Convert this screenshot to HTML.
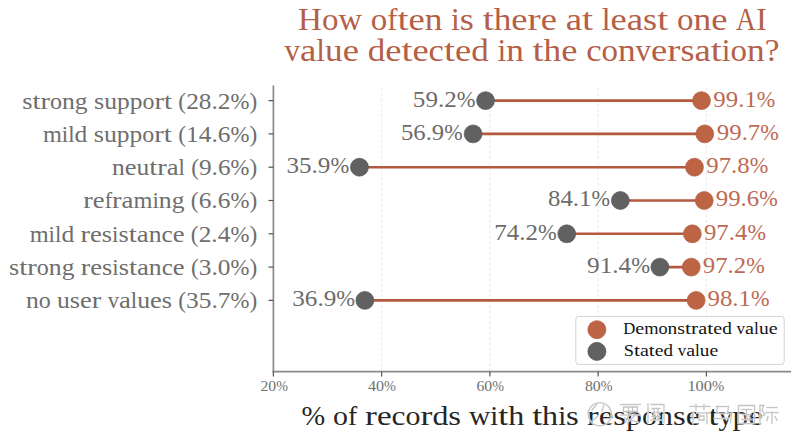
<!DOCTYPE html>
<html><head><meta charset="utf-8"><style>
html,body{margin:0;padding:0;background:#fff;width:800px;height:439px;overflow:hidden}
svg{display:block}
</style></head><body>
<svg width="800" height="439" viewBox="0 0 800 439" font-family='"Liberation Serif", serif'>
<rect width="800" height="439" fill="#ffffff"/>
<line x1="381.65" y1="87.5" x2="381.65" y2="371" stroke="#e9e9e9" stroke-width="1.0" stroke-dasharray="3,2.3"/>
<line x1="489.90" y1="87.5" x2="489.90" y2="371" stroke="#e9e9e9" stroke-width="1.0" stroke-dasharray="3,2.3"/>
<line x1="598.15" y1="87.5" x2="598.15" y2="371" stroke="#e9e9e9" stroke-width="1.0" stroke-dasharray="3,2.3"/>
<line x1="706.40" y1="87.5" x2="706.40" y2="371" stroke="#e9e9e9" stroke-width="1.0" stroke-dasharray="3,2.3"/>
<line x1="273.40" y1="85.5" x2="273.40" y2="372.5" stroke="#8a8a8a" stroke-width="1.7"/>
<line x1="272.55" y1="371.7" x2="791" y2="371.7" stroke="#8a8a8a" stroke-width="1.7"/>
<line x1="268.5" y1="100.60" x2="273.40" y2="100.60" stroke="#555" stroke-width="1.2"/>
<line x1="268.5" y1="133.90" x2="273.40" y2="133.90" stroke="#555" stroke-width="1.2"/>
<line x1="268.5" y1="167.20" x2="273.40" y2="167.20" stroke="#555" stroke-width="1.2"/>
<line x1="268.5" y1="200.50" x2="273.40" y2="200.50" stroke="#555" stroke-width="1.2"/>
<line x1="268.5" y1="233.80" x2="273.40" y2="233.80" stroke="#555" stroke-width="1.2"/>
<line x1="268.5" y1="267.10" x2="273.40" y2="267.10" stroke="#555" stroke-width="1.2"/>
<line x1="268.5" y1="300.40" x2="273.40" y2="300.40" stroke="#555" stroke-width="1.2"/>
<line x1="273.40" y1="371.7" x2="273.40" y2="376.5" stroke="#555" stroke-width="1.2"/>
<line x1="381.65" y1="371.7" x2="381.65" y2="376.5" stroke="#555" stroke-width="1.2"/>
<line x1="489.90" y1="371.7" x2="489.90" y2="376.5" stroke="#555" stroke-width="1.2"/>
<line x1="598.15" y1="371.7" x2="598.15" y2="376.5" stroke="#555" stroke-width="1.2"/>
<line x1="706.40" y1="371.7" x2="706.40" y2="376.5" stroke="#555" stroke-width="1.2"/>
<line x1="485.57" y1="100.60" x2="701.53" y2="100.60" stroke="#b4583f" stroke-width="2.6"/>
<circle cx="485.57" cy="100.60" r="8.95" fill="#616161" stroke="#585858" stroke-width="0.7"/>
<circle cx="701.53" cy="100.60" r="8.95" fill="#bd6445" stroke="#b45c3e" stroke-width="0.7"/>
<line x1="473.12" y1="133.90" x2="704.78" y2="133.90" stroke="#b4583f" stroke-width="2.6"/>
<circle cx="473.12" cy="133.90" r="8.95" fill="#616161" stroke="#585858" stroke-width="0.7"/>
<circle cx="704.78" cy="133.90" r="8.95" fill="#bd6445" stroke="#b45c3e" stroke-width="0.7"/>
<line x1="359.46" y1="167.20" x2="694.49" y2="167.20" stroke="#b4583f" stroke-width="2.6"/>
<circle cx="359.46" cy="167.20" r="8.95" fill="#616161" stroke="#585858" stroke-width="0.7"/>
<circle cx="694.49" cy="167.20" r="8.95" fill="#bd6445" stroke="#b45c3e" stroke-width="0.7"/>
<line x1="620.34" y1="200.50" x2="704.23" y2="200.50" stroke="#b4583f" stroke-width="2.6"/>
<circle cx="620.34" cy="200.50" r="8.95" fill="#616161" stroke="#585858" stroke-width="0.7"/>
<circle cx="704.23" cy="200.50" r="8.95" fill="#bd6445" stroke="#b45c3e" stroke-width="0.7"/>
<line x1="566.76" y1="233.80" x2="692.33" y2="233.80" stroke="#b4583f" stroke-width="2.6"/>
<circle cx="566.76" cy="233.80" r="8.95" fill="#616161" stroke="#585858" stroke-width="0.7"/>
<circle cx="692.33" cy="233.80" r="8.95" fill="#bd6445" stroke="#b45c3e" stroke-width="0.7"/>
<line x1="659.85" y1="267.10" x2="691.24" y2="267.10" stroke="#b4583f" stroke-width="2.6"/>
<circle cx="659.85" cy="267.10" r="8.95" fill="#616161" stroke="#585858" stroke-width="0.7"/>
<circle cx="691.24" cy="267.10" r="8.95" fill="#bd6445" stroke="#b45c3e" stroke-width="0.7"/>
<line x1="364.87" y1="300.40" x2="696.12" y2="300.40" stroke="#b4583f" stroke-width="2.6"/>
<circle cx="364.87" cy="300.40" r="8.95" fill="#616161" stroke="#585858" stroke-width="0.7"/>
<circle cx="696.12" cy="300.40" r="8.95" fill="#bd6445" stroke="#b45c3e" stroke-width="0.7"/>
<rect x="575.8" y="316.4" width="208.4" height="48" rx="3" ry="3" fill="#ffffff" fill-opacity="0.85" stroke="#d4d4d4" stroke-width="1"/>
<circle cx="596.9" cy="329.7" r="9.049999999999999" fill="#bd6445" stroke="#b45c3e" stroke-width="0.7"/>
<circle cx="596.9" cy="351.4" r="9.049999999999999" fill="#616161" stroke="#585858" stroke-width="0.7"/>
<text y="30.20" font-size="30.59" fill="#b55f49"><tspan x="298.09" textLength="23.93" lengthAdjust="spacingAndGlyphs">H</tspan><tspan x="322.02" textLength="16.52" lengthAdjust="spacingAndGlyphs">o</tspan><tspan x="338.54" textLength="23.48" lengthAdjust="spacingAndGlyphs">w</tspan><tspan x="370.74" textLength="16.52" lengthAdjust="spacingAndGlyphs">o</tspan><tspan x="387.26" textLength="10.16" lengthAdjust="spacingAndGlyphs">f</tspan><tspan x="397.42" textLength="11.03" lengthAdjust="spacingAndGlyphs">t</tspan><tspan x="408.44" textLength="16.24" lengthAdjust="spacingAndGlyphs">e</tspan><tspan x="424.68" textLength="17.67" lengthAdjust="spacingAndGlyphs">n</tspan><tspan x="451.07" textLength="8.78" lengthAdjust="spacingAndGlyphs">i</tspan><tspan x="459.85" textLength="14.08" lengthAdjust="spacingAndGlyphs">s</tspan><tspan x="482.65" textLength="11.03" lengthAdjust="spacingAndGlyphs">t</tspan><tspan x="493.68" textLength="17.67" lengthAdjust="spacingAndGlyphs">h</tspan><tspan x="511.35" textLength="16.24" lengthAdjust="spacingAndGlyphs">e</tspan><tspan x="527.58" textLength="13.12" lengthAdjust="spacingAndGlyphs">r</tspan><tspan x="540.70" textLength="16.24" lengthAdjust="spacingAndGlyphs">e</tspan><tspan x="565.66" textLength="16.36" lengthAdjust="spacingAndGlyphs">a</tspan><tspan x="582.02" textLength="11.03" lengthAdjust="spacingAndGlyphs">t</tspan><tspan x="601.76" textLength="8.78" lengthAdjust="spacingAndGlyphs">l</tspan><tspan x="610.54" textLength="16.24" lengthAdjust="spacingAndGlyphs">e</tspan><tspan x="626.78" textLength="16.36" lengthAdjust="spacingAndGlyphs">a</tspan><tspan x="643.13" textLength="14.08" lengthAdjust="spacingAndGlyphs">s</tspan><tspan x="657.21" textLength="11.03" lengthAdjust="spacingAndGlyphs">t</tspan><tspan x="676.96" textLength="16.52" lengthAdjust="spacingAndGlyphs">o</tspan><tspan x="693.48" textLength="17.67" lengthAdjust="spacingAndGlyphs">n</tspan><tspan x="711.15" textLength="16.24" lengthAdjust="spacingAndGlyphs">e</tspan><tspan x="736.11" textLength="19.81" lengthAdjust="spacingAndGlyphs">A</tspan><tspan x="755.92" textLength="10.84" lengthAdjust="spacingAndGlyphs">I</tspan></text>
<text y="61.20" font-size="30.55" fill="#b55f49"><tspan x="284.54" textLength="15.48" lengthAdjust="spacingAndGlyphs">v</tspan><tspan x="300.01" textLength="16.33" lengthAdjust="spacingAndGlyphs">a</tspan><tspan x="316.35" textLength="8.76" lengthAdjust="spacingAndGlyphs">l</tspan><tspan x="325.11" textLength="17.64" lengthAdjust="spacingAndGlyphs">u</tspan><tspan x="342.75" textLength="16.21" lengthAdjust="spacingAndGlyphs">e</tspan><tspan x="367.67" textLength="17.54" lengthAdjust="spacingAndGlyphs">d</tspan><tspan x="385.21" textLength="16.21" lengthAdjust="spacingAndGlyphs">e</tspan><tspan x="401.42" textLength="11.01" lengthAdjust="spacingAndGlyphs">t</tspan><tspan x="412.43" textLength="16.21" lengthAdjust="spacingAndGlyphs">e</tspan><tspan x="428.64" textLength="15.34" lengthAdjust="spacingAndGlyphs">c</tspan><tspan x="443.99" textLength="11.01" lengthAdjust="spacingAndGlyphs">t</tspan><tspan x="455.00" textLength="16.21" lengthAdjust="spacingAndGlyphs">e</tspan><tspan x="471.21" textLength="17.54" lengthAdjust="spacingAndGlyphs">d</tspan><tspan x="497.46" textLength="8.76" lengthAdjust="spacingAndGlyphs">i</tspan><tspan x="506.22" textLength="17.64" lengthAdjust="spacingAndGlyphs">n</tspan><tspan x="532.57" textLength="11.01" lengthAdjust="spacingAndGlyphs">t</tspan><tspan x="543.58" textLength="17.64" lengthAdjust="spacingAndGlyphs">h</tspan><tspan x="561.23" textLength="16.21" lengthAdjust="spacingAndGlyphs">e</tspan><tspan x="586.15" textLength="15.34" lengthAdjust="spacingAndGlyphs">c</tspan><tspan x="601.49" textLength="16.49" lengthAdjust="spacingAndGlyphs">o</tspan><tspan x="617.98" textLength="17.64" lengthAdjust="spacingAndGlyphs">n</tspan><tspan x="635.63" textLength="15.48" lengthAdjust="spacingAndGlyphs">v</tspan><tspan x="651.10" textLength="16.21" lengthAdjust="spacingAndGlyphs">e</tspan><tspan x="667.32" textLength="13.10" lengthAdjust="spacingAndGlyphs">r</tspan><tspan x="680.41" textLength="14.06" lengthAdjust="spacingAndGlyphs">s</tspan><tspan x="694.47" textLength="16.33" lengthAdjust="spacingAndGlyphs">a</tspan><tspan x="710.80" textLength="11.01" lengthAdjust="spacingAndGlyphs">t</tspan><tspan x="721.81" textLength="8.76" lengthAdjust="spacingAndGlyphs">i</tspan><tspan x="730.58" textLength="16.49" lengthAdjust="spacingAndGlyphs">o</tspan><tspan x="747.07" textLength="17.64" lengthAdjust="spacingAndGlyphs">n</tspan><tspan x="764.71" textLength="14.69" lengthAdjust="spacingAndGlyphs">?</tspan></text>
<text y="108.50" font-size="22.21" fill="#6e6e6e"><tspan x="22.30" textLength="10.22" lengthAdjust="spacingAndGlyphs">s</tspan><tspan x="32.53" textLength="8.01" lengthAdjust="spacingAndGlyphs">t</tspan><tspan x="40.54" textLength="9.52" lengthAdjust="spacingAndGlyphs">r</tspan><tspan x="50.06" textLength="11.99" lengthAdjust="spacingAndGlyphs">o</tspan><tspan x="62.05" textLength="12.83" lengthAdjust="spacingAndGlyphs">n</tspan><tspan x="74.88" textLength="12.75" lengthAdjust="spacingAndGlyphs">g</tspan><tspan x="93.97" textLength="10.22" lengthAdjust="spacingAndGlyphs">s</tspan><tspan x="104.20" textLength="12.83" lengthAdjust="spacingAndGlyphs">u</tspan><tspan x="117.03" textLength="12.75" lengthAdjust="spacingAndGlyphs">p</tspan><tspan x="129.78" textLength="12.75" lengthAdjust="spacingAndGlyphs">p</tspan><tspan x="142.54" textLength="11.99" lengthAdjust="spacingAndGlyphs">o</tspan><tspan x="154.53" textLength="9.52" lengthAdjust="spacingAndGlyphs">r</tspan><tspan x="164.05" textLength="8.01" lengthAdjust="spacingAndGlyphs">t</tspan><tspan x="178.39" textLength="7.77" lengthAdjust="spacingAndGlyphs">(</tspan><tspan x="186.17" textLength="12.68" lengthAdjust="spacingAndGlyphs">2</tspan><tspan x="198.84" textLength="12.68" lengthAdjust="spacingAndGlyphs">8</tspan><tspan x="211.52" textLength="6.33" lengthAdjust="spacingAndGlyphs">.</tspan><tspan x="217.85" textLength="12.68" lengthAdjust="spacingAndGlyphs">2</tspan><tspan x="230.53" textLength="18.93" lengthAdjust="spacingAndGlyphs">%</tspan><tspan x="249.46" textLength="7.77" lengthAdjust="spacingAndGlyphs">)</tspan></text>
<text y="106.50" font-size="22.57" fill="#6c6c6c"><tspan x="412.87" textLength="12.53" lengthAdjust="spacingAndGlyphs">5</tspan><tspan x="425.41" textLength="12.53" lengthAdjust="spacingAndGlyphs">9</tspan><tspan x="437.94" textLength="6.26" lengthAdjust="spacingAndGlyphs">.</tspan><tspan x="444.20" textLength="12.53" lengthAdjust="spacingAndGlyphs">2</tspan><tspan x="456.74" textLength="18.72" lengthAdjust="spacingAndGlyphs">%</tspan></text>
<text y="106.50" font-size="22.60" fill="#bd6a54"><tspan x="713.38" textLength="12.41" lengthAdjust="spacingAndGlyphs">9</tspan><tspan x="725.79" textLength="12.41" lengthAdjust="spacingAndGlyphs">9</tspan><tspan x="738.20" textLength="6.20" lengthAdjust="spacingAndGlyphs">.</tspan><tspan x="744.40" textLength="12.41" lengthAdjust="spacingAndGlyphs">1</tspan><tspan x="756.81" textLength="18.53" lengthAdjust="spacingAndGlyphs">%</tspan></text>
<text y="141.80" font-size="22.25" fill="#6e6e6e"><tspan x="42.90" textLength="18.92" lengthAdjust="spacingAndGlyphs">m</tspan><tspan x="61.82" textLength="6.38" lengthAdjust="spacingAndGlyphs">i</tspan><tspan x="68.20" textLength="6.38" lengthAdjust="spacingAndGlyphs">l</tspan><tspan x="74.59" textLength="12.77" lengthAdjust="spacingAndGlyphs">d</tspan><tspan x="93.70" textLength="10.24" lengthAdjust="spacingAndGlyphs">s</tspan><tspan x="103.94" textLength="12.85" lengthAdjust="spacingAndGlyphs">u</tspan><tspan x="116.79" textLength="12.77" lengthAdjust="spacingAndGlyphs">p</tspan><tspan x="129.57" textLength="12.77" lengthAdjust="spacingAndGlyphs">p</tspan><tspan x="142.34" textLength="12.01" lengthAdjust="spacingAndGlyphs">o</tspan><tspan x="154.35" textLength="9.54" lengthAdjust="spacingAndGlyphs">r</tspan><tspan x="163.89" textLength="8.02" lengthAdjust="spacingAndGlyphs">t</tspan><tspan x="178.25" textLength="7.78" lengthAdjust="spacingAndGlyphs">(</tspan><tspan x="186.04" textLength="12.70" lengthAdjust="spacingAndGlyphs">1</tspan><tspan x="198.73" textLength="12.70" lengthAdjust="spacingAndGlyphs">4</tspan><tspan x="211.43" textLength="6.34" lengthAdjust="spacingAndGlyphs">.</tspan><tspan x="217.77" textLength="12.70" lengthAdjust="spacingAndGlyphs">6</tspan><tspan x="230.46" textLength="18.96" lengthAdjust="spacingAndGlyphs">%</tspan><tspan x="249.42" textLength="7.78" lengthAdjust="spacingAndGlyphs">)</tspan></text>
<text y="139.80" font-size="22.20" fill="#6c6c6c"><tspan x="401.00" textLength="12.33" lengthAdjust="spacingAndGlyphs">5</tspan><tspan x="413.33" textLength="12.33" lengthAdjust="spacingAndGlyphs">6</tspan><tspan x="425.65" textLength="6.16" lengthAdjust="spacingAndGlyphs">.</tspan><tspan x="431.81" textLength="12.33" lengthAdjust="spacingAndGlyphs">9</tspan><tspan x="444.14" textLength="18.41" lengthAdjust="spacingAndGlyphs">%</tspan></text>
<text y="139.80" font-size="22.60" fill="#bd6a54"><tspan x="716.87" textLength="12.41" lengthAdjust="spacingAndGlyphs">9</tspan><tspan x="729.28" textLength="12.41" lengthAdjust="spacingAndGlyphs">9</tspan><tspan x="741.69" textLength="6.20" lengthAdjust="spacingAndGlyphs">.</tspan><tspan x="747.89" textLength="12.41" lengthAdjust="spacingAndGlyphs">7</tspan><tspan x="760.30" textLength="18.53" lengthAdjust="spacingAndGlyphs">%</tspan></text>
<text y="175.10" font-size="22.15" fill="#6e6e6e"><tspan x="111.90" textLength="12.79" lengthAdjust="spacingAndGlyphs">n</tspan><tspan x="124.70" textLength="11.75" lengthAdjust="spacingAndGlyphs">e</tspan><tspan x="136.45" textLength="12.79" lengthAdjust="spacingAndGlyphs">u</tspan><tspan x="149.24" textLength="7.98" lengthAdjust="spacingAndGlyphs">t</tspan><tspan x="157.22" textLength="9.49" lengthAdjust="spacingAndGlyphs">r</tspan><tspan x="166.72" textLength="11.84" lengthAdjust="spacingAndGlyphs">a</tspan><tspan x="178.56" textLength="6.35" lengthAdjust="spacingAndGlyphs">l</tspan><tspan x="191.23" textLength="7.75" lengthAdjust="spacingAndGlyphs">(</tspan><tspan x="198.97" textLength="12.64" lengthAdjust="spacingAndGlyphs">9</tspan><tspan x="211.61" textLength="6.31" lengthAdjust="spacingAndGlyphs">.</tspan><tspan x="217.92" textLength="12.64" lengthAdjust="spacingAndGlyphs">6</tspan><tspan x="230.56" textLength="18.87" lengthAdjust="spacingAndGlyphs">%</tspan><tspan x="249.43" textLength="7.75" lengthAdjust="spacingAndGlyphs">)</tspan></text>
<text y="173.10" font-size="22.64" fill="#6c6c6c"><tspan x="286.44" textLength="12.58" lengthAdjust="spacingAndGlyphs">3</tspan><tspan x="299.02" textLength="12.58" lengthAdjust="spacingAndGlyphs">5</tspan><tspan x="311.60" textLength="6.28" lengthAdjust="spacingAndGlyphs">.</tspan><tspan x="317.88" textLength="12.58" lengthAdjust="spacingAndGlyphs">9</tspan><tspan x="330.46" textLength="18.78" lengthAdjust="spacingAndGlyphs">%</tspan></text>
<text y="173.10" font-size="22.60" fill="#bd6a54"><tspan x="706.30" textLength="12.41" lengthAdjust="spacingAndGlyphs">9</tspan><tspan x="718.71" textLength="12.41" lengthAdjust="spacingAndGlyphs">7</tspan><tspan x="731.12" textLength="6.20" lengthAdjust="spacingAndGlyphs">.</tspan><tspan x="737.33" textLength="12.41" lengthAdjust="spacingAndGlyphs">8</tspan><tspan x="749.74" textLength="18.53" lengthAdjust="spacingAndGlyphs">%</tspan></text>
<text y="208.40" font-size="22.27" fill="#6e6e6e"><tspan x="83.30" textLength="9.55" lengthAdjust="spacingAndGlyphs">r</tspan><tspan x="92.85" textLength="11.82" lengthAdjust="spacingAndGlyphs">e</tspan><tspan x="104.67" textLength="7.39" lengthAdjust="spacingAndGlyphs">f</tspan><tspan x="112.07" textLength="9.55" lengthAdjust="spacingAndGlyphs">r</tspan><tspan x="121.62" textLength="11.91" lengthAdjust="spacingAndGlyphs">a</tspan><tspan x="133.53" textLength="18.94" lengthAdjust="spacingAndGlyphs">m</tspan><tspan x="152.47" textLength="6.39" lengthAdjust="spacingAndGlyphs">i</tspan><tspan x="158.86" textLength="12.87" lengthAdjust="spacingAndGlyphs">n</tspan><tspan x="171.73" textLength="12.79" lengthAdjust="spacingAndGlyphs">g</tspan><tspan x="190.86" textLength="7.79" lengthAdjust="spacingAndGlyphs">(</tspan><tspan x="198.66" textLength="12.71" lengthAdjust="spacingAndGlyphs">6</tspan><tspan x="211.37" textLength="6.35" lengthAdjust="spacingAndGlyphs">.</tspan><tspan x="217.72" textLength="12.71" lengthAdjust="spacingAndGlyphs">6</tspan><tspan x="230.43" textLength="18.98" lengthAdjust="spacingAndGlyphs">%</tspan><tspan x="249.41" textLength="7.79" lengthAdjust="spacingAndGlyphs">)</tspan></text>
<text y="206.40" font-size="22.35" fill="#6c6c6c"><tspan x="548.03" textLength="12.41" lengthAdjust="spacingAndGlyphs">8</tspan><tspan x="560.44" textLength="12.41" lengthAdjust="spacingAndGlyphs">4</tspan><tspan x="572.85" textLength="6.20" lengthAdjust="spacingAndGlyphs">.</tspan><tspan x="579.05" textLength="12.41" lengthAdjust="spacingAndGlyphs">1</tspan><tspan x="591.46" textLength="18.53" lengthAdjust="spacingAndGlyphs">%</tspan></text>
<text y="206.40" font-size="22.60" fill="#bd6a54"><tspan x="715.79" textLength="12.41" lengthAdjust="spacingAndGlyphs">9</tspan><tspan x="728.20" textLength="12.41" lengthAdjust="spacingAndGlyphs">9</tspan><tspan x="740.61" textLength="6.20" lengthAdjust="spacingAndGlyphs">.</tspan><tspan x="746.81" textLength="12.41" lengthAdjust="spacingAndGlyphs">6</tspan><tspan x="759.22" textLength="18.53" lengthAdjust="spacingAndGlyphs">%</tspan></text>
<text y="241.70" font-size="22.26" fill="#6e6e6e"><tspan x="29.70" textLength="18.93" lengthAdjust="spacingAndGlyphs">m</tspan><tspan x="48.63" textLength="6.39" lengthAdjust="spacingAndGlyphs">i</tspan><tspan x="55.02" textLength="6.39" lengthAdjust="spacingAndGlyphs">l</tspan><tspan x="61.40" textLength="12.78" lengthAdjust="spacingAndGlyphs">d</tspan><tspan x="80.53" textLength="9.54" lengthAdjust="spacingAndGlyphs">r</tspan><tspan x="90.08" textLength="11.81" lengthAdjust="spacingAndGlyphs">e</tspan><tspan x="101.89" textLength="10.25" lengthAdjust="spacingAndGlyphs">s</tspan><tspan x="112.14" textLength="6.39" lengthAdjust="spacingAndGlyphs">i</tspan><tspan x="118.52" textLength="10.25" lengthAdjust="spacingAndGlyphs">s</tspan><tspan x="128.77" textLength="8.02" lengthAdjust="spacingAndGlyphs">t</tspan><tspan x="136.79" textLength="11.90" lengthAdjust="spacingAndGlyphs">a</tspan><tspan x="148.69" textLength="12.86" lengthAdjust="spacingAndGlyphs">n</tspan><tspan x="161.55" textLength="11.18" lengthAdjust="spacingAndGlyphs">c</tspan><tspan x="172.73" textLength="11.81" lengthAdjust="spacingAndGlyphs">e</tspan><tspan x="190.89" textLength="7.79" lengthAdjust="spacingAndGlyphs">(</tspan><tspan x="198.68" textLength="12.70" lengthAdjust="spacingAndGlyphs">2</tspan><tspan x="211.39" textLength="6.35" lengthAdjust="spacingAndGlyphs">.</tspan><tspan x="217.73" textLength="12.70" lengthAdjust="spacingAndGlyphs">4</tspan><tspan x="230.44" textLength="18.97" lengthAdjust="spacingAndGlyphs">%</tspan><tspan x="249.41" textLength="7.79" lengthAdjust="spacingAndGlyphs">)</tspan></text>
<text y="239.70" font-size="22.57" fill="#6c6c6c"><tspan x="494.25" textLength="12.53" lengthAdjust="spacingAndGlyphs">7</tspan><tspan x="506.78" textLength="12.53" lengthAdjust="spacingAndGlyphs">4</tspan><tspan x="519.32" textLength="6.26" lengthAdjust="spacingAndGlyphs">.</tspan><tspan x="525.58" textLength="12.53" lengthAdjust="spacingAndGlyphs">2</tspan><tspan x="538.11" textLength="18.72" lengthAdjust="spacingAndGlyphs">%</tspan></text>
<text y="239.70" font-size="22.60" fill="#bd6a54"><tspan x="703.97" textLength="12.41" lengthAdjust="spacingAndGlyphs">9</tspan><tspan x="716.38" textLength="12.41" lengthAdjust="spacingAndGlyphs">7</tspan><tspan x="728.79" textLength="6.20" lengthAdjust="spacingAndGlyphs">.</tspan><tspan x="735.00" textLength="12.41" lengthAdjust="spacingAndGlyphs">4</tspan><tspan x="747.41" textLength="18.53" lengthAdjust="spacingAndGlyphs">%</tspan></text>
<text y="275.00" font-size="22.23" fill="#6e6e6e"><tspan x="9.10" textLength="10.23" lengthAdjust="spacingAndGlyphs">s</tspan><tspan x="19.33" textLength="8.01" lengthAdjust="spacingAndGlyphs">t</tspan><tspan x="27.35" textLength="9.53" lengthAdjust="spacingAndGlyphs">r</tspan><tspan x="36.88" textLength="12.00" lengthAdjust="spacingAndGlyphs">o</tspan><tspan x="48.88" textLength="12.84" lengthAdjust="spacingAndGlyphs">n</tspan><tspan x="61.72" textLength="12.76" lengthAdjust="spacingAndGlyphs">g</tspan><tspan x="80.82" textLength="9.53" lengthAdjust="spacingAndGlyphs">r</tspan><tspan x="90.34" textLength="11.80" lengthAdjust="spacingAndGlyphs">e</tspan><tspan x="102.14" textLength="10.23" lengthAdjust="spacingAndGlyphs">s</tspan><tspan x="112.37" textLength="6.38" lengthAdjust="spacingAndGlyphs">i</tspan><tspan x="118.75" textLength="10.23" lengthAdjust="spacingAndGlyphs">s</tspan><tspan x="128.98" textLength="8.01" lengthAdjust="spacingAndGlyphs">t</tspan><tspan x="136.99" textLength="11.88" lengthAdjust="spacingAndGlyphs">a</tspan><tspan x="148.88" textLength="12.84" lengthAdjust="spacingAndGlyphs">n</tspan><tspan x="161.72" textLength="11.17" lengthAdjust="spacingAndGlyphs">c</tspan><tspan x="172.88" textLength="11.80" lengthAdjust="spacingAndGlyphs">e</tspan><tspan x="191.02" textLength="7.78" lengthAdjust="spacingAndGlyphs">(</tspan><tspan x="198.79" textLength="12.68" lengthAdjust="spacingAndGlyphs">3</tspan><tspan x="211.48" textLength="6.34" lengthAdjust="spacingAndGlyphs">.</tspan><tspan x="217.81" textLength="12.68" lengthAdjust="spacingAndGlyphs">0</tspan><tspan x="230.50" textLength="18.94" lengthAdjust="spacingAndGlyphs">%</tspan><tspan x="249.44" textLength="7.78" lengthAdjust="spacingAndGlyphs">)</tspan></text>
<text y="273.00" font-size="22.71" fill="#6c6c6c"><tspan x="587.03" textLength="12.62" lengthAdjust="spacingAndGlyphs">9</tspan><tspan x="599.65" textLength="12.62" lengthAdjust="spacingAndGlyphs">1</tspan><tspan x="612.26" textLength="6.30" lengthAdjust="spacingAndGlyphs">.</tspan><tspan x="618.57" textLength="12.62" lengthAdjust="spacingAndGlyphs">4</tspan><tspan x="631.19" textLength="18.85" lengthAdjust="spacingAndGlyphs">%</tspan></text>
<text y="273.00" font-size="22.60" fill="#bd6a54"><tspan x="702.81" textLength="12.41" lengthAdjust="spacingAndGlyphs">9</tspan><tspan x="715.22" textLength="12.41" lengthAdjust="spacingAndGlyphs">7</tspan><tspan x="727.63" textLength="6.20" lengthAdjust="spacingAndGlyphs">.</tspan><tspan x="733.83" textLength="12.41" lengthAdjust="spacingAndGlyphs">2</tspan><tspan x="746.24" textLength="18.53" lengthAdjust="spacingAndGlyphs">%</tspan></text>
<text y="308.30" font-size="22.20" fill="#6e6e6e"><tspan x="25.90" textLength="12.83" lengthAdjust="spacingAndGlyphs">n</tspan><tspan x="38.73" textLength="11.99" lengthAdjust="spacingAndGlyphs">o</tspan><tspan x="57.05" textLength="12.83" lengthAdjust="spacingAndGlyphs">u</tspan><tspan x="69.87" textLength="10.22" lengthAdjust="spacingAndGlyphs">s</tspan><tspan x="80.09" textLength="11.78" lengthAdjust="spacingAndGlyphs">e</tspan><tspan x="91.88" textLength="9.52" lengthAdjust="spacingAndGlyphs">r</tspan><tspan x="107.73" textLength="11.25" lengthAdjust="spacingAndGlyphs">v</tspan><tspan x="118.97" textLength="11.87" lengthAdjust="spacingAndGlyphs">a</tspan><tspan x="130.85" textLength="6.37" lengthAdjust="spacingAndGlyphs">l</tspan><tspan x="137.22" textLength="12.83" lengthAdjust="spacingAndGlyphs">u</tspan><tspan x="150.04" textLength="11.78" lengthAdjust="spacingAndGlyphs">e</tspan><tspan x="161.83" textLength="10.22" lengthAdjust="spacingAndGlyphs">s</tspan><tspan x="178.37" textLength="7.77" lengthAdjust="spacingAndGlyphs">(</tspan><tspan x="186.14" textLength="12.67" lengthAdjust="spacingAndGlyphs">3</tspan><tspan x="198.81" textLength="12.67" lengthAdjust="spacingAndGlyphs">5</tspan><tspan x="211.48" textLength="6.33" lengthAdjust="spacingAndGlyphs">.</tspan><tspan x="217.81" textLength="12.67" lengthAdjust="spacingAndGlyphs">7</tspan><tspan x="230.48" textLength="18.92" lengthAdjust="spacingAndGlyphs">%</tspan><tspan x="249.41" textLength="7.77" lengthAdjust="spacingAndGlyphs">)</tspan></text>
<text y="306.30" font-size="22.64" fill="#6c6c6c"><tspan x="292.27" textLength="12.58" lengthAdjust="spacingAndGlyphs">3</tspan><tspan x="304.85" textLength="12.58" lengthAdjust="spacingAndGlyphs">6</tspan><tspan x="317.42" textLength="6.28" lengthAdjust="spacingAndGlyphs">.</tspan><tspan x="323.71" textLength="12.58" lengthAdjust="spacingAndGlyphs">9</tspan><tspan x="336.28" textLength="18.78" lengthAdjust="spacingAndGlyphs">%</tspan></text>
<text y="306.30" font-size="22.60" fill="#bd6a54"><tspan x="707.55" textLength="12.41" lengthAdjust="spacingAndGlyphs">9</tspan><tspan x="719.96" textLength="12.41" lengthAdjust="spacingAndGlyphs">8</tspan><tspan x="732.37" textLength="6.20" lengthAdjust="spacingAndGlyphs">.</tspan><tspan x="738.57" textLength="12.41" lengthAdjust="spacingAndGlyphs">1</tspan><tspan x="750.98" textLength="18.53" lengthAdjust="spacingAndGlyphs">%</tspan></text>
<text y="390.50" font-size="13.76" fill="#707070"><tspan x="260.48" textLength="7.85" lengthAdjust="spacingAndGlyphs">2</tspan><tspan x="268.33" textLength="7.85" lengthAdjust="spacingAndGlyphs">0</tspan><tspan x="276.18" textLength="11.73" lengthAdjust="spacingAndGlyphs">%</tspan></text>
<text y="390.50" font-size="14.03" fill="#707070"><tspan x="367.96" textLength="8.01" lengthAdjust="spacingAndGlyphs">4</tspan><tspan x="375.96" textLength="8.01" lengthAdjust="spacingAndGlyphs">0</tspan><tspan x="383.97" textLength="11.96" lengthAdjust="spacingAndGlyphs">%</tspan></text>
<text y="390.50" font-size="13.80" fill="#707070"><tspan x="476.47" textLength="7.87" lengthAdjust="spacingAndGlyphs">6</tspan><tspan x="484.35" textLength="7.87" lengthAdjust="spacingAndGlyphs">0</tspan><tspan x="492.22" textLength="11.76" lengthAdjust="spacingAndGlyphs">%</tspan></text>
<text y="390.50" font-size="13.80" fill="#707070"><tspan x="584.97" textLength="7.87" lengthAdjust="spacingAndGlyphs">8</tspan><tspan x="592.85" textLength="7.87" lengthAdjust="spacingAndGlyphs">0</tspan><tspan x="600.72" textLength="11.76" lengthAdjust="spacingAndGlyphs">%</tspan></text>
<text y="390.50" font-size="14.39" fill="#707070"><tspan x="687.42" textLength="8.21" lengthAdjust="spacingAndGlyphs">1</tspan><tspan x="695.63" textLength="8.21" lengthAdjust="spacingAndGlyphs">0</tspan><tspan x="703.85" textLength="8.21" lengthAdjust="spacingAndGlyphs">0</tspan><tspan x="712.06" textLength="12.27" lengthAdjust="spacingAndGlyphs">%</tspan></text>
<text y="334.20" font-size="16.80" fill="#141414"><tspan x="623.17" textLength="12.08" lengthAdjust="spacingAndGlyphs">D</tspan><tspan x="635.25" textLength="8.92" lengthAdjust="spacingAndGlyphs">e</tspan><tspan x="644.17" textLength="14.29" lengthAdjust="spacingAndGlyphs">m</tspan><tspan x="658.46" textLength="9.07" lengthAdjust="spacingAndGlyphs">o</tspan><tspan x="667.53" textLength="9.71" lengthAdjust="spacingAndGlyphs">n</tspan><tspan x="677.24" textLength="7.73" lengthAdjust="spacingAndGlyphs">s</tspan><tspan x="684.97" textLength="6.06" lengthAdjust="spacingAndGlyphs">t</tspan><tspan x="691.03" textLength="7.20" lengthAdjust="spacingAndGlyphs">r</tspan><tspan x="698.23" textLength="8.98" lengthAdjust="spacingAndGlyphs">a</tspan><tspan x="707.22" textLength="6.06" lengthAdjust="spacingAndGlyphs">t</tspan><tspan x="713.27" textLength="8.92" lengthAdjust="spacingAndGlyphs">e</tspan><tspan x="722.19" textLength="9.65" lengthAdjust="spacingAndGlyphs">d</tspan><tspan x="736.63" textLength="8.51" lengthAdjust="spacingAndGlyphs">v</tspan><tspan x="745.14" textLength="8.98" lengthAdjust="spacingAndGlyphs">a</tspan><tspan x="754.12" textLength="4.82" lengthAdjust="spacingAndGlyphs">l</tspan><tspan x="758.94" textLength="9.71" lengthAdjust="spacingAndGlyphs">u</tspan><tspan x="768.65" textLength="8.92" lengthAdjust="spacingAndGlyphs">e</tspan></text>
<text y="355.60" font-size="16.59" fill="#141414"><tspan x="623.74" textLength="10.19" lengthAdjust="spacingAndGlyphs">S</tspan><tspan x="633.93" textLength="5.98" lengthAdjust="spacingAndGlyphs">t</tspan><tspan x="639.90" textLength="8.87" lengthAdjust="spacingAndGlyphs">a</tspan><tspan x="648.77" textLength="5.98" lengthAdjust="spacingAndGlyphs">t</tspan><tspan x="654.75" textLength="8.80" lengthAdjust="spacingAndGlyphs">e</tspan><tspan x="663.55" textLength="9.52" lengthAdjust="spacingAndGlyphs">d</tspan><tspan x="677.80" textLength="8.40" lengthAdjust="spacingAndGlyphs">v</tspan><tspan x="686.21" textLength="8.87" lengthAdjust="spacingAndGlyphs">a</tspan><tspan x="695.08" textLength="4.76" lengthAdjust="spacingAndGlyphs">l</tspan><tspan x="699.83" textLength="9.58" lengthAdjust="spacingAndGlyphs">u</tspan><tspan x="709.42" textLength="8.80" lengthAdjust="spacingAndGlyphs">e</tspan></text>
<text y="424.60" font-size="27.72" fill="#262626"><tspan x="301.43" textLength="23.63" lengthAdjust="spacingAndGlyphs">%</tspan><tspan x="332.96" textLength="14.97" lengthAdjust="spacingAndGlyphs">o</tspan><tspan x="347.93" textLength="9.20" lengthAdjust="spacingAndGlyphs">f</tspan><tspan x="365.04" textLength="11.89" lengthAdjust="spacingAndGlyphs">r</tspan><tspan x="376.93" textLength="14.71" lengthAdjust="spacingAndGlyphs">e</tspan><tspan x="391.64" textLength="13.93" lengthAdjust="spacingAndGlyphs">c</tspan><tspan x="405.57" textLength="14.97" lengthAdjust="spacingAndGlyphs">o</tspan><tspan x="420.54" textLength="11.89" lengthAdjust="spacingAndGlyphs">r</tspan><tspan x="432.42" textLength="15.92" lengthAdjust="spacingAndGlyphs">d</tspan><tspan x="448.34" textLength="12.76" lengthAdjust="spacingAndGlyphs">s</tspan><tspan x="469.01" textLength="21.28" lengthAdjust="spacingAndGlyphs">w</tspan><tspan x="490.29" textLength="7.95" lengthAdjust="spacingAndGlyphs">i</tspan><tspan x="498.24" textLength="9.99" lengthAdjust="spacingAndGlyphs">t</tspan><tspan x="508.23" textLength="16.01" lengthAdjust="spacingAndGlyphs">h</tspan><tspan x="532.15" textLength="9.99" lengthAdjust="spacingAndGlyphs">t</tspan><tspan x="542.14" textLength="16.01" lengthAdjust="spacingAndGlyphs">h</tspan><tspan x="558.16" textLength="7.95" lengthAdjust="spacingAndGlyphs">i</tspan><tspan x="566.11" textLength="12.76" lengthAdjust="spacingAndGlyphs">s</tspan><tspan x="586.78" textLength="11.89" lengthAdjust="spacingAndGlyphs">r</tspan><tspan x="598.66" textLength="14.71" lengthAdjust="spacingAndGlyphs">e</tspan><tspan x="613.38" textLength="12.76" lengthAdjust="spacingAndGlyphs">s</tspan><tspan x="626.14" textLength="15.92" lengthAdjust="spacingAndGlyphs">p</tspan><tspan x="642.06" textLength="14.97" lengthAdjust="spacingAndGlyphs">o</tspan><tspan x="657.02" textLength="16.01" lengthAdjust="spacingAndGlyphs">n</tspan><tspan x="673.04" textLength="12.76" lengthAdjust="spacingAndGlyphs">s</tspan><tspan x="685.80" textLength="14.71" lengthAdjust="spacingAndGlyphs">e</tspan><tspan x="708.42" textLength="9.99" lengthAdjust="spacingAndGlyphs">t</tspan><tspan x="718.41" textLength="14.05" lengthAdjust="spacingAndGlyphs">y</tspan><tspan x="732.46" textLength="15.92" lengthAdjust="spacingAndGlyphs">p</tspan><tspan x="748.38" textLength="14.71" lengthAdjust="spacingAndGlyphs">e</tspan></text>
<g fill="none" stroke="#ffffff" stroke-width="2.2" stroke-linecap="square" opacity="0.55"><path transform="translate(620.5,403.5)" d="M0 1H20"/><path transform="translate(620.5,403.5)" d="M3 3.5H17V8H3Z"/><path transform="translate(620.5,403.5)" d="M8 3.5V8"/><path transform="translate(620.5,403.5)" d="M12 3.5V8"/><path transform="translate(620.5,403.5)" d="M0 11.5H20"/><path transform="translate(620.5,403.5)" d="M10 9L5 18"/><path transform="translate(620.5,403.5)" d="M4 14.5L18 19"/><path transform="translate(620.5,403.5)" d="M15 11.5L7 19"/><path transform="translate(646,403.5)" d="M2 0.5V19"/><path transform="translate(646,403.5)" d="M5 1H18V19"/><path transform="translate(646,403.5)" d="M6 5H14"/><path transform="translate(646,403.5)" d="M6 9H14"/><path transform="translate(646,403.5)" d="M6 13H14"/><path transform="translate(646,403.5)" d="M8 5V16"/><path transform="translate(646,403.5)" d="M12 5V16"/><path transform="translate(646,403.5)" d="M5 16.5H15"/><path transform="translate(690,404.5)" d="M0 2H20"/><path transform="translate(690,404.5)" d="M6 0V5"/><path transform="translate(690,404.5)" d="M14 0V5"/><path transform="translate(690,404.5)" d="M4 7L1.5 12"/><path transform="translate(690,404.5)" d="M3 9V19"/><path transform="translate(690,404.5)" d="M7 8.5H20"/><path transform="translate(690,404.5)" d="M9 11.5H14V15.5H9Z"/><path transform="translate(690,404.5)" d="M17 8.5V19"/><path transform="translate(713.5,404.5)" d="M3 2H15"/><path transform="translate(713.5,404.5)" d="M15 2L14 9"/><path transform="translate(713.5,404.5)" d="M4 2L3 9"/><path transform="translate(713.5,404.5)" d="M3 9H18"/><path transform="translate(713.5,404.5)" d="M18 9L17 18"/><path transform="translate(713.5,404.5)" d="M1 14H15"/><path transform="translate(736.5,404.5)" d="M2 1H18V19H2Z"/><path transform="translate(736.5,404.5)" d="M5 5H15"/><path transform="translate(736.5,404.5)" d="M6 10H14"/><path transform="translate(736.5,404.5)" d="M5 15H15"/><path transform="translate(736.5,404.5)" d="M10 5V15"/><path transform="translate(736.5,404.5)" d="M12.5 11.5L13.5 13"/><path transform="translate(758,404.5)" d="M2 1V19"/><path transform="translate(758,404.5)" d="M2 1H6L4 6L7 10L2 13"/><path transform="translate(758,404.5)" d="M9 3H19"/><path transform="translate(758,404.5)" d="M8 8H20"/><path transform="translate(758,404.5)" d="M14 8V19"/><path transform="translate(758,404.5)" d="M10 12L9 16"/><path transform="translate(758,404.5)" d="M17 12L19 16"/><circle cx="599.8" cy="414.2" r="11.6"/></g>
<g fill="none" stroke="#c4c4c4" stroke-width="1.3" stroke-linecap="square"><path transform="translate(620.5,403.5)" d="M0 1H20"/><path transform="translate(620.5,403.5)" d="M3 3.5H17V8H3Z"/><path transform="translate(620.5,403.5)" d="M8 3.5V8"/><path transform="translate(620.5,403.5)" d="M12 3.5V8"/><path transform="translate(620.5,403.5)" d="M0 11.5H20"/><path transform="translate(620.5,403.5)" d="M10 9L5 18"/><path transform="translate(620.5,403.5)" d="M4 14.5L18 19"/><path transform="translate(620.5,403.5)" d="M15 11.5L7 19"/><path transform="translate(646,403.5)" d="M2 0.5V19"/><path transform="translate(646,403.5)" d="M5 1H18V19"/><path transform="translate(646,403.5)" d="M6 5H14"/><path transform="translate(646,403.5)" d="M6 9H14"/><path transform="translate(646,403.5)" d="M6 13H14"/><path transform="translate(646,403.5)" d="M8 5V16"/><path transform="translate(646,403.5)" d="M12 5V16"/><path transform="translate(646,403.5)" d="M5 16.5H15"/><path transform="translate(690,404.5)" d="M0 2H20"/><path transform="translate(690,404.5)" d="M6 0V5"/><path transform="translate(690,404.5)" d="M14 0V5"/><path transform="translate(690,404.5)" d="M4 7L1.5 12"/><path transform="translate(690,404.5)" d="M3 9V19"/><path transform="translate(690,404.5)" d="M7 8.5H20"/><path transform="translate(690,404.5)" d="M9 11.5H14V15.5H9Z"/><path transform="translate(690,404.5)" d="M17 8.5V19"/><path transform="translate(713.5,404.5)" d="M3 2H15"/><path transform="translate(713.5,404.5)" d="M15 2L14 9"/><path transform="translate(713.5,404.5)" d="M4 2L3 9"/><path transform="translate(713.5,404.5)" d="M3 9H18"/><path transform="translate(713.5,404.5)" d="M18 9L17 18"/><path transform="translate(713.5,404.5)" d="M1 14H15"/><path transform="translate(736.5,404.5)" d="M2 1H18V19H2Z"/><path transform="translate(736.5,404.5)" d="M5 5H15"/><path transform="translate(736.5,404.5)" d="M6 10H14"/><path transform="translate(736.5,404.5)" d="M5 15H15"/><path transform="translate(736.5,404.5)" d="M10 5V15"/><path transform="translate(736.5,404.5)" d="M12.5 11.5L13.5 13"/><path transform="translate(758,404.5)" d="M2 1V19"/><path transform="translate(758,404.5)" d="M2 1H6L4 6L7 10L2 13"/><path transform="translate(758,404.5)" d="M9 3H19"/><path transform="translate(758,404.5)" d="M8 8H20"/><path transform="translate(758,404.5)" d="M14 8V19"/><path transform="translate(758,404.5)" d="M10 12L9 16"/><path transform="translate(758,404.5)" d="M17 12L19 16"/><circle cx="599.8" cy="414.2" r="11.6"/><path d="M592 410L597 404"/><path d="M593 420L598 416"/><path d="M604 405L602 411"/></g>
</svg>
</body></html>
